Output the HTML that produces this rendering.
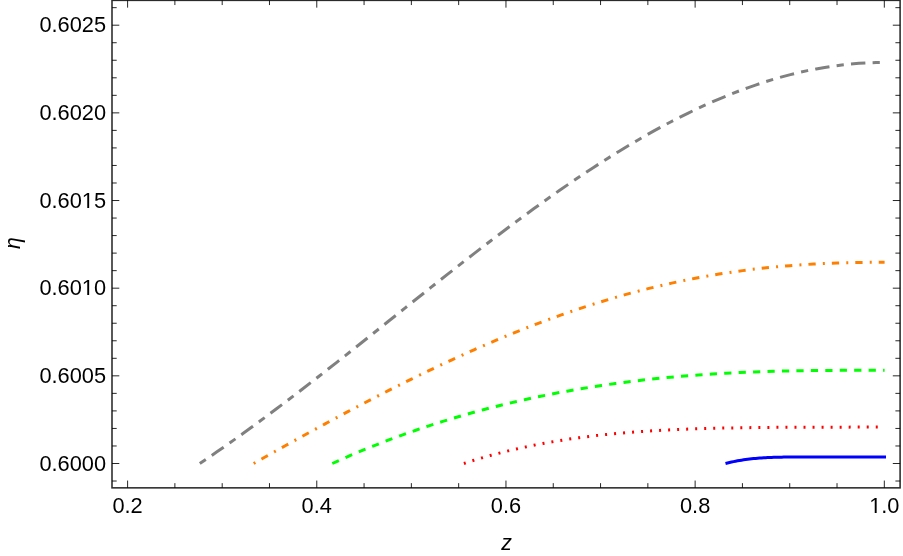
<!DOCTYPE html>
<html><head><meta charset="utf-8"><title>eta vs z</title>
<style>
html,body{margin:0;padding:0;background:#fff;}
body{width:903px;height:556px;overflow:hidden;position:relative;font-family:"Liberation Sans",sans-serif;}
svg{position:absolute;left:0;top:0;display:block;will-change:transform;}
.t{font-family:"Liberation Sans",sans-serif;font-size:21.8px;fill:#000;}
.c{fill:none;stroke-width:3;stroke-linecap:butt;stroke-linejoin:round;}
</style></head><body>
<svg width="903" height="556" viewBox="0 0 903 556">
<rect x="0" y="0" width="903" height="556" fill="#fff"/>
<rect x="112.0" y="0.35" width="788.1" height="487.5" fill="none" stroke="#2a2a2a" stroke-width="1.55"/>
<path d="M127.60 487.85v-7.3M127.60 0.35v7.3M174.89 487.85v-4.7M174.89 0.35v4.7M222.19 487.85v-4.7M222.19 0.35v4.7M269.48 487.85v-4.7M269.48 0.35v4.7M316.78 487.85v-7.3M316.78 0.35v7.3M364.07 487.85v-4.7M364.07 0.35v4.7M411.37 487.85v-4.7M411.37 0.35v4.7M458.66 487.85v-4.7M458.66 0.35v4.7M505.96 487.85v-7.3M505.96 0.35v7.3M553.25 487.85v-4.7M553.25 0.35v4.7M600.55 487.85v-4.7M600.55 0.35v4.7M647.85 487.85v-4.7M647.85 0.35v4.7M695.14 487.85v-7.3M695.14 0.35v7.3M742.43 487.85v-4.7M742.43 0.35v4.7M789.73 487.85v-4.7M789.73 0.35v4.7M837.02 487.85v-4.7M837.02 0.35v4.7M884.32 487.85v-7.3M884.32 0.35v7.3M112.00 481.03h4.7M900.10 481.03h-4.7M112.00 463.50h7.3M900.10 463.50h-7.3M112.00 445.97h4.7M900.10 445.97h-4.7M112.00 428.44h4.7M900.10 428.44h-4.7M112.00 410.90h4.7M900.10 410.90h-4.7M112.00 393.37h4.7M900.10 393.37h-4.7M112.00 375.84h7.3M900.10 375.84h-7.3M112.00 358.31h4.7M900.10 358.31h-4.7M112.00 340.78h4.7M900.10 340.78h-4.7M112.00 323.24h4.7M900.10 323.24h-4.7M112.00 305.71h4.7M900.10 305.71h-4.7M112.00 288.18h7.3M900.10 288.18h-7.3M112.00 270.65h4.7M900.10 270.65h-4.7M112.00 253.12h4.7M900.10 253.12h-4.7M112.00 235.58h4.7M900.10 235.58h-4.7M112.00 218.05h4.7M900.10 218.05h-4.7M112.00 200.52h7.3M900.10 200.52h-7.3M112.00 182.99h4.7M900.10 182.99h-4.7M112.00 165.46h4.7M900.10 165.46h-4.7M112.00 147.92h4.7M900.10 147.92h-4.7M112.00 130.39h4.7M900.10 130.39h-4.7M112.00 112.86h7.3M900.10 112.86h-7.3M112.00 95.33h4.7M900.10 95.33h-4.7M112.00 77.80h4.7M900.10 77.80h-4.7M112.00 60.26h4.7M900.10 60.26h-4.7M112.00 42.73h4.7M900.10 42.73h-4.7M112.00 25.20h7.3M900.10 25.20h-7.3M112.00 7.67h4.7M900.10 7.67h-4.7" stroke="#000" stroke-width="0.85" fill="none"/>
<path class="c" d="M199.80 463.50 L208.36 457.73 L216.92 451.86 L225.48 445.91 L234.04 439.87 L242.60 433.75 L251.16 427.55 L259.72 421.29 L268.28 414.95 L276.84 408.55 L285.40 402.09 L293.96 395.58 L302.52 389.01 L311.08 382.40 L319.64 375.75 L328.20 369.05 L336.76 362.33 L345.32 355.57 L353.88 348.79 L362.44 342.00 L371.00 335.18 L379.56 328.36 L388.12 321.53 L396.68 314.69 L405.24 307.86 L413.80 301.04 L422.36 294.23 L430.92 287.43 L439.48 280.66 L448.04 273.91 L456.60 267.19 L465.16 260.51 L473.72 253.86 L482.28 247.26 L490.84 240.71 L499.40 234.21 L507.96 227.76 L516.52 221.38 L525.08 215.07 L533.64 208.82 L542.20 202.65 L550.76 196.56 L559.32 190.55 L567.88 184.63 L576.44 178.80 L585.00 173.07 L593.56 167.44 L602.12 161.91 L610.68 156.50 L619.24 151.19 L627.80 146.00 L636.36 140.94 L644.92 136.00 L653.48 131.18 L662.04 126.50 L670.60 121.96 L679.16 117.55 L687.72 113.29 L696.28 109.18 L704.84 105.22 L713.40 101.41 L721.96 97.76 L730.52 94.27 L739.08 90.95 L747.64 87.79 L756.20 84.81 L764.76 82.00 L773.32 79.36 L781.88 76.91 L790.44 74.63 L799.00 72.55 L807.56 70.65 L816.12 68.94 L824.68 67.42 L833.24 66.10 L841.80 64.98 L850.36 64.06 L858.92 63.33 L867.48 62.82 L876.04 62.50 L884.60 62.40" stroke="#808080" stroke-dasharray="7.224 7.224 14.448 7.224" stroke-dashoffset="0"/>
<path class="c" d="M253.70 463.50 L261.59 459.04 L269.47 454.59 L277.36 450.17 L285.24 445.76 L293.13 441.38 L301.02 437.02 L308.90 432.69 L316.79 428.38 L324.68 424.09 L332.56 419.84 L340.45 415.61 L348.34 411.42 L356.22 407.25 L364.11 403.12 L371.99 399.03 L379.88 394.97 L387.77 390.94 L395.65 386.96 L403.54 383.02 L411.42 379.11 L419.31 375.26 L427.20 371.44 L435.08 367.68 L442.97 363.96 L450.86 360.29 L458.74 356.67 L466.63 353.11 L474.52 349.59 L482.40 346.14 L490.29 342.74 L498.17 339.40 L506.06 336.12 L513.95 332.90 L521.83 329.74 L529.72 326.65 L537.60 323.62 L545.49 320.66 L553.38 317.77 L561.26 314.94 L569.15 312.18 L577.04 309.50 L584.92 306.89 L592.81 304.35 L600.70 301.88 L608.58 299.49 L616.47 297.17 L624.35 294.93 L632.24 292.77 L640.13 290.68 L648.01 288.67 L655.90 286.74 L663.79 284.88 L671.67 283.11 L679.56 281.41 L687.44 279.79 L695.33 278.25 L703.22 276.78 L711.10 275.40 L718.99 274.09 L726.88 272.86 L734.76 271.70 L742.65 270.62 L750.53 269.61 L758.42 268.67 L766.31 267.81 L774.19 267.02 L782.08 266.30 L789.97 265.64 L797.85 265.05 L805.74 264.53 L813.62 264.07 L821.51 263.66 L829.40 263.32 L837.28 263.03 L845.17 262.79 L853.06 262.61 L860.94 262.47 L868.83 262.37 L876.71 262.32 L884.60 262.30" stroke="#ff8000" stroke-dasharray="2 7 7.3 7.15" stroke-dashoffset="0.1"/>
<path class="c" d="M332.30 463.50 L339.20 460.38 L346.11 457.34 L353.01 454.36 L359.92 451.45 L366.82 448.60 L373.72 445.82 L380.63 443.11 L387.53 440.45 L394.43 437.86 L401.34 435.34 L408.24 432.87 L415.14 430.46 L422.05 428.11 L428.95 425.82 L435.86 423.59 L442.76 421.41 L449.66 419.29 L456.57 417.22 L463.47 415.21 L470.38 413.25 L477.28 411.35 L484.18 409.50 L491.09 407.70 L497.99 405.95 L504.89 404.25 L511.80 402.60 L518.70 401.01 L525.60 399.46 L532.51 397.96 L539.41 396.50 L546.32 395.10 L553.22 393.74 L560.12 392.42 L567.03 391.15 L573.93 389.93 L580.84 388.75 L587.74 387.62 L594.64 386.53 L601.55 385.48 L608.45 384.47 L615.35 383.51 L622.26 382.59 L629.16 381.70 L636.07 380.86 L642.97 380.06 L649.87 379.29 L656.78 378.57 L663.68 377.88 L670.58 377.22 L677.49 376.61 L684.39 376.02 L691.30 375.48 L698.20 374.96 L705.10 374.48 L712.01 374.03 L718.91 373.62 L725.81 373.23 L732.72 372.87 L739.62 372.55 L746.52 372.25 L753.43 371.97 L760.33 371.72 L767.24 371.50 L774.14 371.30 L781.04 371.12 L787.95 370.97 L794.85 370.83 L801.76 370.72 L808.66 370.62 L815.56 370.54 L822.47 370.47 L829.37 370.42 L836.27 370.38 L843.18 370.35 L850.08 370.32 L856.98 370.31 L863.89 370.30 L870.79 370.30 L877.70 370.30 L884.60 370.30" stroke="#00ff00" stroke-dasharray="7.224 7.224" stroke-dashoffset="0"/>
<path class="c" d="M463.90 463.50 L469.16 461.80 L474.42 460.15 L479.68 458.56 L484.94 457.03 L490.19 455.55 L495.45 454.12 L500.71 452.75 L505.97 451.42 L511.23 450.15 L516.49 448.93 L521.75 447.75 L527.00 446.62 L532.26 445.53 L537.52 444.49 L542.78 443.50 L548.04 442.54 L553.30 441.63 L558.56 440.75 L563.82 439.92 L569.08 439.12 L574.33 438.37 L579.59 437.64 L584.85 436.96 L590.11 436.30 L595.37 435.68 L600.63 435.09 L605.89 434.53 L611.14 434.00 L616.40 433.50 L621.66 433.03 L626.92 432.59 L632.18 432.17 L637.44 431.77 L642.70 431.40 L647.96 431.06 L653.22 430.73 L658.47 430.43 L663.73 430.14 L668.99 429.88 L674.25 429.63 L679.51 429.40 L684.77 429.19 L690.03 428.99 L695.29 428.81 L700.54 428.64 L705.80 428.49 L711.06 428.35 L716.32 428.22 L721.58 428.10 L726.84 427.99 L732.10 427.90 L737.36 427.81 L742.61 427.73 L747.87 427.66 L753.13 427.59 L758.39 427.53 L763.65 427.48 L768.91 427.43 L774.17 427.39 L779.42 427.35 L784.68 427.32 L789.94 427.29 L795.20 427.27 L800.46 427.24 L805.72 427.22 L810.98 427.21 L816.24 427.19 L821.50 427.18 L826.75 427.17 L832.01 427.15 L837.27 427.14 L842.53 427.14 L847.79 427.13 L853.05 427.12 L858.31 427.11 L863.56 427.11 L868.82 427.11 L874.08 427.10 L879.34 427.10 L884.60 427.10" stroke="#ff0000" stroke-dasharray="2.0 7.03" stroke-dashoffset="0.1"/>
<path class="c" d="M725.50 463.50 L727.51 462.99 L729.51 462.50 L731.52 462.04 L733.52 461.61 L735.53 461.21 L737.54 460.83 L739.54 460.48 L741.55 460.15 L743.56 459.84 L745.56 459.55 L747.57 459.29 L749.58 459.04 L751.58 458.82 L753.59 458.61 L755.59 458.42 L757.60 458.24 L759.61 458.09 L761.61 457.94 L763.62 457.81 L765.62 457.70 L767.63 457.59 L769.64 457.50 L771.64 457.41 L773.65 457.34 L775.66 457.28 L777.66 457.22 L779.67 457.17 L781.68 457.13 L783.68 457.10 L785.69 457.07 L787.69 457.05 L789.70 457.03 L791.71 457.01 L793.71 457.00 L795.72 457.00 L797.72 456.99 L799.73 456.99 L801.74 456.99 L803.74 456.99 L805.75 456.99 L807.76 456.99 L809.76 456.99 L811.77 457.00 L813.78 457.00 L815.78 457.00 L817.79 457.01 L819.79 457.01 L821.80 457.01 L823.81 457.02 L825.81 457.02 L827.82 457.02 L829.82 457.02 L831.83 457.02 L833.84 457.02 L835.84 457.02 L837.85 457.02 L839.86 457.01 L841.86 457.01 L843.87 457.01 L845.88 457.01 L847.88 457.00 L849.89 457.00 L851.89 457.00 L853.90 456.99 L855.91 456.99 L857.91 456.99 L859.92 456.99 L861.92 456.99 L863.93 456.99 L865.94 456.99 L867.94 456.99 L869.95 456.99 L871.96 456.99 L873.96 456.99 L875.97 456.99 L877.98 456.99 L879.98 457.00 L881.99 457.00 L883.99 457.00 L886.00 457.00" stroke="#0000ff"/>
<text class="t" x="106.1" y="470.70" text-anchor="end">0.6000</text>
<text class="t" x="106.1" y="383.04" text-anchor="end">0.6005</text>
<text class="t" x="106.1" y="295.38" text-anchor="end">0.6010</text>
<text class="t" x="106.1" y="207.72" text-anchor="end">0.6015</text>
<text class="t" x="106.1" y="120.06" text-anchor="end">0.6020</text>
<text class="t" x="106.1" y="32.40" text-anchor="end">0.6025</text>
<text class="t" x="127.60" y="512.8" text-anchor="middle">0.2</text>
<text class="t" x="316.78" y="512.8" text-anchor="middle">0.4</text>
<text class="t" x="505.96" y="512.8" text-anchor="middle">0.6</text>
<text class="t" x="695.14" y="512.8" text-anchor="middle">0.8</text>
<text class="t" x="884.32" y="512.8" text-anchor="middle">1.0</text>
<rect x="82.5" y="293" width="10.5" height="2.5" fill="#fff"/><rect x="87.255" y="293" width="1.9" height="2" fill="#000"/>
<rect x="82.5" y="206" width="10.5" height="2.5" fill="#fff"/><rect x="87.255" y="206" width="1.9" height="2" fill="#000"/>
<rect x="869" y="511" width="12.6" height="2.5" fill="#fff"/><rect x="874.74" y="511" width="1.9" height="2" fill="#000"/>
<text class="t" x="506.5" y="549.6" text-anchor="middle" font-style="italic" style="font-size:21.3px">z</text>
<text class="t" transform="translate(19.5 243.1) rotate(-90)" text-anchor="middle" font-style="italic" style="font-size:21.2px">η</text>
</svg>
</body></html>
